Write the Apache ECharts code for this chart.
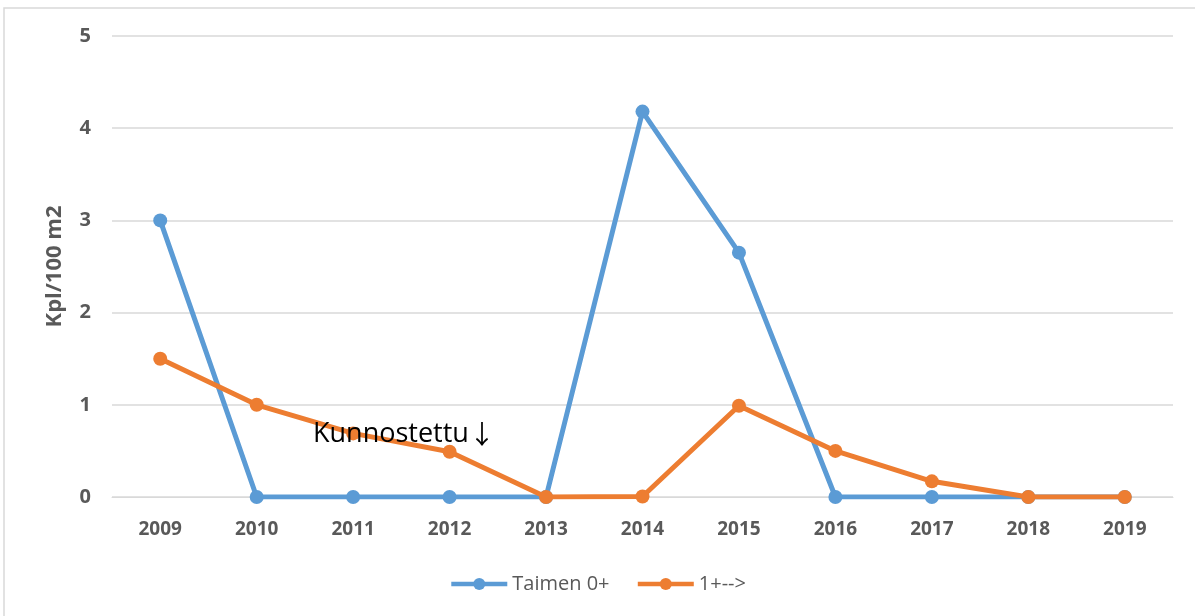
<!DOCTYPE html>
<html>
<head>
<meta charset="utf-8">
<script src="https://cdn.jsdelivr.net/npm/echarts@6/dist/echarts.min.js"></script>
<style>
  html, body { margin: 0; padding: 0; background: #fff; }
  #main { width: 1195px; height: 616px; }
</style>
</head>
<body>
<div id="main"></div>
<script>
// data
var years = ['2009', '2010', '2011', '2012', '2013', '2014', '2015', '2016', '2017', '2018', '2019'];
var taimen0 = [3, 0, 0, 0, 0, 4.18, 2.65, 0, 0, 0, 0];
var taimen1 = [1.5, 1.0, 0.69, 0.49, 0, 0.005, 0.99, 0.5, 0.17, 0, 0];
var seriesNames = ['Taimen 0+', '1+-->'];

var myChart = echarts.init(document.getElementById('main'));
myChart.setOption({
    animation: false,
    textStyle: { fontFamily: 'Open Sans, sans-serif' },
    // outer frame (only top and left edges visible)
    graphic: [
        {
            type: 'rect',
            shape: { x: 4, y: 8, width: 1300, height: 700 },
            style: { fill: 'none', stroke: '#d9d9d9', lineWidth: 1.5 },
            silent: true
        },
        {
            type: 'text',
            left: 313,
            top: 421,
            style: {
                text: '{a|Kunnostettu}{b|↓}',
                fill: '#000',
                rich: {
                    a: { fontSize: 27, fontFamily: 'Open Sans', color: '#000' },
                    b: { fontSize: 26, fontFamily: 'Noto Sans CJK SC', color: '#000' }
                }
            },
            z: 10
        }
    ],
    grid: { left: 112, right: 22, top: 36, bottom: 119 },
    legend: {
        bottom: 17,
        left: 'center',
        itemWidth: 56,
        itemHeight: 15,
        itemGap: 26,
        textStyle: { color: '#595959', fontSize: 20 },
        lineStyle: { width: 4.5 },
        data: seriesNames
    },
    xAxis: {
        type: 'category',
        data: years,
        axisLine: { lineStyle: { color: '#d9d9d9', width: 1 } },
        axisTick: { show: false },
        axisLabel: { color: '#595959', fontSize: 19, fontWeight: 'bold', margin: 23 }
    },
    yAxis: {
        type: 'value',
        min: 0,
        max: 5,
        interval: 1,
        name: 'Kpl/100 m2',
        nameLocation: 'middle',
        nameGap: 46,
        nameTextStyle: { color: '#595959', fontSize: 22, fontWeight: 'bold' },
        axisLine: { show: false },
        axisTick: { show: false },
        axisLabel: { color: '#595959', fontSize: 20, fontWeight: 'bold', margin: 21 },
        splitLine: { lineStyle: { color: '#d9d9d9', width: 1.5 } }
    },
    series: [
        {
            name: seriesNames[0],
            type: 'line',
            data: taimen0,
            symbol: 'circle',
            symbolSize: 14,
            itemStyle: { color: '#5b9bd5' },
            lineStyle: { color: '#5b9bd5', width: 5 },
            z: 2
        },
        {
            name: seriesNames[1],
            type: 'line',
            data: taimen1,
            symbol: 'circle',
            symbolSize: 14,
            itemStyle: { color: '#ed7d31' },
            lineStyle: { color: '#ed7d31', width: 5 },
            z: 3
        }
    ]
});
</script>
</body>
</html>
